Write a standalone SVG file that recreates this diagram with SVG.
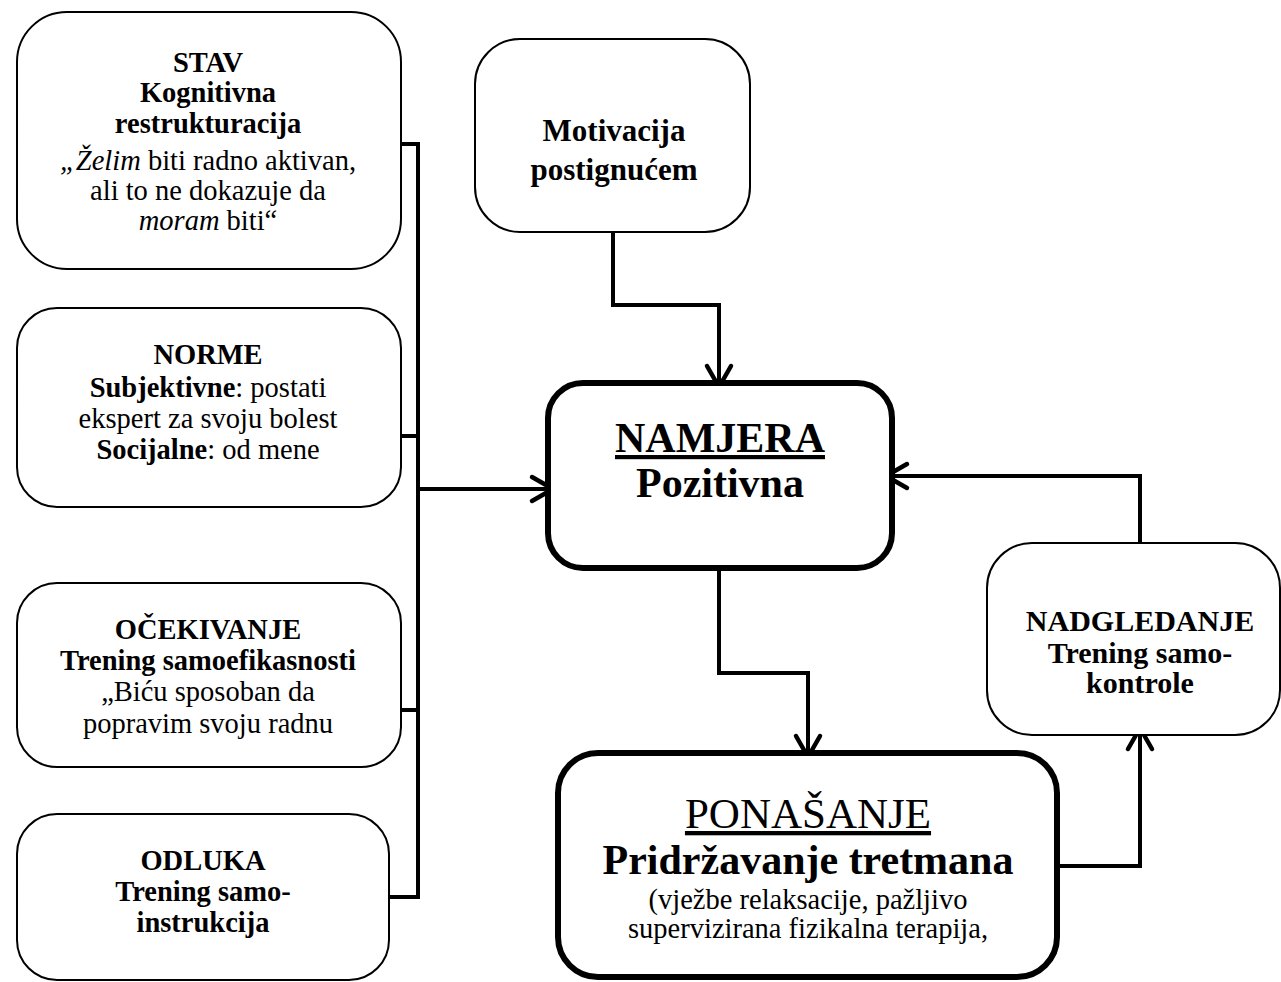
<svg xmlns="http://www.w3.org/2000/svg" width="1281" height="982" viewBox="0 0 1281 982">
<style>
text{font-family:"Liberation Serif","Times New Roman",serif;fill:#000;text-anchor:middle}
.b{font-weight:bold}
.i{font-style:italic}
.l{font-size:28.5px}
.thin{fill:#fff;stroke:#000;stroke-width:2}
.thick{fill:#fff;stroke:#000;stroke-width:6}
.c{fill:none;stroke:#000;stroke-width:4;stroke-linejoin:miter}
.u{text-decoration:underline}
</style>
<defs>
<marker id="ah" markerUnits="userSpaceOnUse" viewBox="-26 -16 30 32" refX="0" refY="0" markerWidth="30" markerHeight="32" orient="auto">
<path d="M-21,-12 L0,0 L-21,12" fill="none" stroke="#000" stroke-width="4.5" stroke-linecap="round" stroke-linejoin="round"/>
</marker>
</defs>
<rect width="1281" height="982" fill="#fff"/>

<g id="connectors">
<path class="c" d="M401,144 H418 M401,436 H418 M401,710 H418 M389,897 H418 M418,142 V899"/>
<path class="c" d="M418,489 H553" marker-end="url(#ah)"/>
<path class="c" d="M613,232 V305 H719 V387" marker-end="url(#ah)"/>
<path class="c" d="M719,568 V673 H808 V757" marker-end="url(#ah)"/>
<path class="c" d="M1057,866 H1140 V728" marker-end="url(#ah)"/>
<path class="c" d="M1140,543 V476 H886" marker-end="url(#ah)"/>
</g>

<g id="stav">
<rect class="thin" x="17" y="12" width="384" height="257" rx="50"/>
<text class="l b" x="208" y="72">STAV</text>
<text class="l b" x="208" y="102">Kognitivna</text>
<text class="l b" x="208" y="133">restrukturacija</text>
<text class="l" x="208" y="170"><tspan class="i">„Želim</tspan> biti radno aktivan,</text>
<text class="l" x="208" y="200">ali to ne dokazuje da</text>
<text class="l" x="208" y="230"><tspan class="i">moram</tspan> biti“</text>
</g>

<g id="norme">
<rect class="thin" x="17" y="308" width="384" height="199" rx="40"/>
<text class="l b" x="208" y="364">NORME</text>
<text class="l" x="208" y="397"><tspan class="b">Subjektivne</tspan>: postati</text>
<text class="l" x="208" y="428">ekspert za svoju bolest</text>
<text class="l" x="208" y="459"><tspan class="b">Socijalne</tspan>: od mene</text>
</g>

<g id="ocekivanje">
<rect class="thin" x="17" y="583" width="384" height="184" rx="40"/>
<text class="l b" x="208" y="639">OČEKIVANJE</text>
<text class="l b" x="208" y="670">Trening samoefikasnosti</text>
<text class="l" x="208" y="701">„Biću sposoban da</text>
<text class="l" x="208" y="733">popravim svoju radnu</text>
</g>

<g id="odluka">
<rect class="thin" x="17" y="814" width="372" height="166" rx="40"/>
<text class="l b" x="203" y="870">ODLUKA</text>
<text class="l b" x="203" y="901">Trening samo-</text>
<text class="l b" x="203" y="932">instrukcija</text>
</g>

<g id="motivacija">
<rect class="thin" x="475" y="39" width="275" height="193" rx="45"/>
<text class="b" x="614" y="141" font-size="31">Motivacija</text>
<text class="b" x="614" y="180" font-size="31">postignućem</text>
</g>

<g id="namjera">
<rect class="thick" x="548" y="383" width="344" height="185" rx="35"/>
<text class="b u" x="720" y="452" font-size="42">NAMJERA</text>
<text class="b" x="720" y="497" font-size="42">Pozitivna</text>
</g>

<g id="ponasanje">
<rect class="thick" x="558" y="753" width="499" height="224" rx="40"/>
<text class="u" x="808" y="828" font-size="43">PONAŠANJE</text>
<text class="b" x="808" y="874" font-size="42">Pridržavanje tretmana</text>
<text x="808" y="909" font-size="28.5">(vježbe relaksacije, pažljivo</text>
<text x="808" y="938" font-size="28.5">supervizirana fizikalna terapija,</text>
</g>

<g id="nadgledanje">
<rect class="thin" x="987" y="543" width="293" height="192" rx="45"/>
<text class="b" x="1140" y="631" font-size="30">NADGLEDANJE</text>
<text class="b" x="1140" y="663" font-size="30">Trening samo-</text>
<text class="b" x="1140" y="693" font-size="30">kontrole</text>
</g>
</svg>
